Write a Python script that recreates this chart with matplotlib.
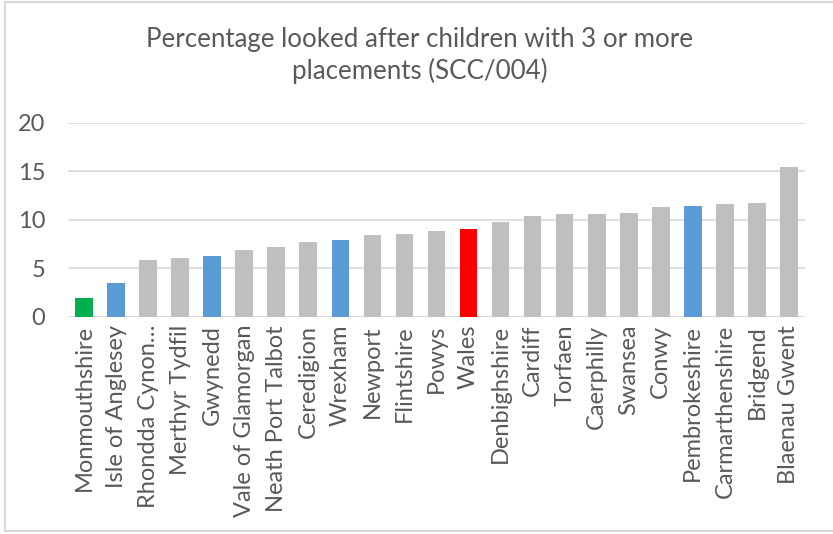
import matplotlib
matplotlib.use("Agg")
import matplotlib.pyplot as plt
from matplotlib.lines import Line2D

# Local authorities, sorted by value
areas = ["Monmouthshire", "Isle of Anglesey", "Rhondda Cynon\u2026", "Merthyr Tydfil",
         "Gwynedd", "Vale of Glamorgan", "Neath Port Talbot", "Ceredigion",
         "Wrexham", "Newport", "Flintshire", "Powys", "Wales", "Denbighshire",
         "Cardiff", "Torfaen", "Caerphilly", "Swansea", "Conwy",
         "Pembrokeshire", "Carmarthenshire", "Bridgend", "Blaenau Gwent"]
values = [1.9, 3.5, 5.8, 6.1, 6.3, 6.9, 7.2, 7.7, 7.9, 8.4, 8.5, 8.8, 9.0,
          9.8, 10.4, 10.6, 10.6, 10.7, 11.3, 11.4, 11.6, 11.7, 15.4]

highlight = {"Monmouthshire": "#00B050", "Wales": "#FF0000",
             "Isle of Anglesey": "#5B9BD5", "Gwynedd": "#5B9BD5",
             "Wrexham": "#5B9BD5", "Pembrokeshire": "#5B9BD5"}
colors = [highlight.get(a, "#BFBFBF") for a in areas]

plt.rcParams['font.family'] = ['Lato', 'DejaVu Sans']
text_col = "#595959"

fig = plt.figure(figsize=(8.33, 5.34), dpi=100)
ax = fig.add_axes([0.0816, 0.407, 0.8848, 0.363])

x = range(len(areas))
ax.bar(x, values, width=0.55, color=colors, zorder=3)

ax.set_xlim(-0.5, len(areas) - 0.5)
ax.set_ylim(0, 20)
ax.set_yticks([0, 5, 10, 15, 20])
ax.set_xticks(list(x))
ax.set_xticklabels(areas, rotation=90, fontsize=17, color=text_col)
ax.tick_params(axis='y', labelsize=17, labelcolor=text_col, length=0, pad=16.5)
ax.tick_params(axis='x', length=0, pad=6)
ax.grid(axis='y', color="#D9D9D9", linewidth=1.2, zorder=0)
for s in ax.spines.values():
    s.set_visible(False)
ax.axhline(0, color="#D9D9D9", linewidth=1.2, zorder=2)

fig.text(0.504, 0.896, "Percentage looked after children with 3 or more\nplacements (SCC/004)",
         ha='center', va='center', fontsize=18.6, color=text_col, linespacing=1.3)

# chart border (left, top, bottom)
W, H = 833, 534
for xs, ys in [([4.5, 4.5], [1.5, 530.5]), ([4.5, W], [1.5, 1.5]), ([4.5, W], [530.5, 530.5])]:
    fig.add_artist(Line2D([v / W for v in xs], [1 - v / H for v in ys],
                          transform=fig.transFigure, color="#D9D9D9", linewidth=1.5))

fig.savefig("out.png", dpi=100)
